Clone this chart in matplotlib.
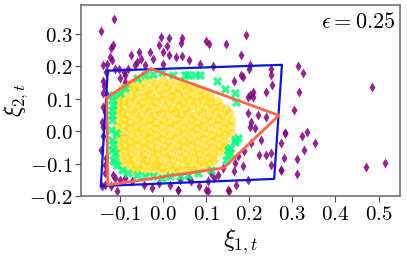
import matplotlib
matplotlib.use("Agg")
import matplotlib.pyplot as plt
from matplotlib.ticker import FuncFormatter

plt.rcParams["mathtext.fontset"] = "cm"

# outside points (purple diamonds)
purple_pts = [
    (-0.113, 0.347), (-0.144, 0.309), (-0.115, 0.265), (-0.120, 0.258), (-0.122, 0.229),
    (-0.138, 0.203), (-0.130, 0.209), (-0.132, 0.183), (-0.140, 0.156), (-0.136, 0.139),
    (-0.139, 0.117), (-0.119, 0.219), (-0.112, 0.193), (-0.102, 0.193), (-0.091, 0.183),
    (-0.088, 0.173), (-0.081, 0.193), (-0.074, 0.236), (-0.061, 0.214), (-0.055, 0.244),
    (-0.051, 0.224), (-0.065, 0.203), (-0.030, 0.244), (-0.024, 0.224), (-0.010, 0.265),
    (-0.005, 0.290), (0.013, 0.288), (0.009, 0.262), (0.001, 0.244), (0.014, 0.234),
    (0.001, 0.209), (0.030, 0.229), (0.044, 0.287), (0.042, 0.272), (0.045, 0.231),
    (-0.041, 0.203), (-0.088, 0.152), (-0.099, 0.163),
    (0.193, 0.298), (0.101, 0.278), (0.106, 0.268), (0.147, 0.270), (0.182, 0.236),
    (0.060, 0.219), (0.085, 0.209), (0.115, 0.200), (0.203, 0.206), (0.199, 0.193),
    (0.250, 0.193), (0.251, 0.173), (0.182, 0.173), (0.185, 0.168), (0.165, 0.156),
    (0.253, 0.144), (0.240, 0.122), (0.209, 0.122), (0.201, 0.111),
    (0.484, 0.136), (0.314, 0.200), (0.324, 0.180), (0.315, 0.122), (0.305, 0.065),
    (0.334, -0.003), (0.323, -0.014), (0.353, -0.035), (0.328, -0.057), (0.310, -0.085),
    (0.310, -0.131), (0.472, -0.111), (0.515, -0.099), (0.284, -0.004), (0.274, -0.118),
    (0.280, -0.081),
    (0.197, 0.106), (0.209, 0.106), (0.197, 0.055), (0.220, 0.050), (0.240, 0.045),
    (0.205, 0.030), (0.213, 0.009), (0.201, 0.012), (0.228, -0.027), (0.205, -0.037),
    (0.282, -0.006), (0.274, -0.035), (0.250, -0.067), (0.240, -0.073), (0.222, -0.073),
    (0.189, -0.062), (0.174, -0.076), (0.185, -0.106), (0.166, -0.098), (0.165, -0.124),
    (0.251, -0.103), (0.274, -0.121), (0.139, -0.113), (0.128, -0.134), (0.111, -0.129),
    (0.118, -0.144), (0.104, -0.154), (0.066, -0.154), (0.101, -0.180), (0.151, -0.180),
    (0.170, -0.165), (0.197, -0.151),
    (-0.130, 0.111), (-0.138, 0.076), (-0.135, 0.060), (-0.142, 0.030), (-0.138, 0.014),
    (-0.140, -0.016), (-0.144, -0.057), (-0.132, -0.083), (-0.134, -0.103), (-0.134, -0.129),
    (-0.135, -0.165), (-0.142, -0.170), (-0.115, -0.134), (-0.111, -0.144), (-0.099, -0.149),
    (-0.107, -0.185), (-0.120, -0.170), (-0.088, -0.144), (-0.072, -0.154), (-0.045, -0.165),
    (-0.026, -0.175), (-0.010, -0.160), (0.017, -0.165), (0.036, -0.180), (0.040, -0.151),
    (0.060, -0.144), (0.034, -0.181), (0.083, -0.169), (0.104, -0.184), (0.153, -0.184),
]

# boundary points (green crosses)
green_pts = [
    (-0.041, 0.173), (-0.022, 0.178), (-0.003, 0.183), (0.024, 0.175), (0.051, 0.173),
    (-0.061, 0.163), (-0.088, 0.132), (-0.099, 0.117), (-0.115, 0.111),
    (0.058, 0.173), (0.074, 0.173), (0.085, 0.173), (0.125, 0.156), (0.143, 0.129),
    (0.166, 0.117), (0.170, 0.091), (0.174, -0.021), (0.166, -0.032), (0.155, -0.052),
    (0.151, -0.073), (0.147, -0.088), (0.112, -0.119), (0.081, -0.129), (0.166, -0.027),
    (0.151, -0.057), (0.155, -0.067),
    (-0.119, 0.096), (-0.117, 0.065), (-0.119, 0.035), (-0.120, 0.004), (-0.119, -0.027),
    (-0.117, -0.057), (-0.115, -0.088), (-0.107, -0.103), (-0.095, -0.119), (-0.080, -0.129),
    (-0.061, -0.134), (-0.041, -0.137), (-0.022, -0.139), (-0.003, -0.144), (0.016, -0.139),
    (0.040, -0.137), (0.059, -0.134), (-0.109, -0.006), (-0.111, -0.067), (-0.116, 0.080),
    (-0.118, 0.050), (-0.116, -0.040), (-0.112, -0.095),
]

# inner points (yellow circles)
yellow_pts = [
    (-0.075, 0.150), (-0.060, 0.158), (-0.045, 0.152), (-0.030, 0.160), (-0.015, 0.150),
    (0.000, 0.157), (0.015, 0.148), (0.030, 0.155), (0.048, 0.146),
    (-0.095, 0.132), (-0.082, 0.138), (-0.068, 0.130), (-0.052, 0.136), (-0.038, 0.128),
    (-0.022, 0.138), (-0.008, 0.131), (0.008, 0.136), (0.022, 0.127), (0.038, 0.134),
    (0.055, 0.129), (0.070, 0.136), (0.085, 0.126),
    (-0.102, 0.112), (-0.090, 0.118), (-0.075, 0.110), (-0.060, 0.117), (-0.045, 0.109),
    (-0.030, 0.116), (-0.014, 0.108), (0.002, 0.115), (0.018, 0.110), (0.034, 0.118),
    (0.050, 0.108), (0.066, 0.114), (0.082, 0.109), (0.098, 0.115), (0.110, 0.106),
    (-0.105, 0.092), (-0.092, 0.098), (-0.078, 0.090), (-0.064, 0.097), (-0.048, 0.089),
    (-0.033, 0.096), (-0.018, 0.090), (-0.002, 0.098), (0.014, 0.091), (0.030, 0.097),
    (0.046, 0.089), (0.062, 0.095), (0.078, 0.090), (0.094, 0.097), (0.110, 0.089),
    (0.126, 0.094),
    (-0.104, 0.072), (-0.090, 0.078), (-0.074, 0.070), (-0.058, 0.077), (-0.043, 0.071),
    (-0.027, 0.079), (-0.012, 0.069), (0.004, 0.076), (0.020, 0.070), (0.036, 0.078),
    (0.052, 0.071), (0.068, 0.077), (0.084, 0.069), (0.100, 0.076), (0.116, 0.071),
    (0.132, 0.078), (0.146, 0.070),
    (-0.106, 0.052), (-0.094, 0.058), (-0.080, 0.050), (-0.065, 0.057), (-0.050, 0.051),
    (-0.035, 0.058), (-0.020, 0.049), (-0.005, 0.056), (0.011, 0.050), (0.027, 0.058),
    (0.043, 0.052), (0.059, 0.057), (0.075, 0.049), (0.091, 0.056), (0.107, 0.050),
    (0.122, 0.058), (0.138, 0.051), (0.153, 0.056),
    (-0.105, 0.032), (-0.091, 0.038), (-0.076, 0.030), (-0.061, 0.037), (-0.046, 0.031),
    (-0.031, 0.039), (-0.016, 0.029), (0.000, 0.036), (0.016, 0.030), (0.032, 0.038),
    (0.048, 0.031), (0.064, 0.037), (0.080, 0.029), (0.096, 0.036), (0.112, 0.031),
    (0.128, 0.038), (0.144, 0.030), (0.158, 0.036),
    (-0.106, 0.012), (-0.093, 0.018), (-0.078, 0.010), (-0.063, 0.017), (-0.048, 0.011),
    (-0.033, 0.018), (-0.018, 0.009), (-0.002, 0.016), (0.014, 0.010), (0.030, 0.018),
    (0.046, 0.011), (0.062, 0.017), (0.078, 0.009), (0.094, 0.016), (0.110, 0.010),
    (0.126, 0.018), (0.142, 0.011), (0.157, 0.016),
    (-0.105, -0.008), (-0.090, -0.002), (-0.075, -0.010), (-0.060, -0.003), (-0.045, -0.009),
    (-0.030, -0.001), (-0.015, -0.011), (0.001, -0.004), (0.017, -0.010), (0.033, -0.002),
    (0.049, -0.009), (0.065, -0.003), (0.081, -0.011), (0.097, -0.004), (0.113, -0.010),
    (0.129, -0.002), (0.145, -0.009), (0.157, -0.004),
    (-0.104, -0.028), (-0.091, -0.022), (-0.077, -0.030), (-0.062, -0.023), (-0.047, -0.029),
    (-0.032, -0.021), (-0.017, -0.031), (-0.001, -0.024), (0.015, -0.030), (0.031, -0.022),
    (0.047, -0.029), (0.063, -0.023), (0.079, -0.031), (0.095, -0.024), (0.111, -0.030),
    (0.127, -0.022), (0.143, -0.029),
    (-0.103, -0.048), (-0.089, -0.042), (-0.074, -0.050), (-0.059, -0.043), (-0.044, -0.049),
    (-0.029, -0.041), (-0.014, -0.051), (0.002, -0.044), (0.018, -0.050), (0.034, -0.042),
    (0.050, -0.049), (0.066, -0.043), (0.082, -0.051), (0.098, -0.044), (0.114, -0.050),
    (0.130, -0.042), (0.142, -0.049),
    (-0.102, -0.068), (-0.088, -0.062), (-0.073, -0.070), (-0.058, -0.063), (-0.043, -0.069),
    (-0.028, -0.061), (-0.013, -0.071), (0.003, -0.064), (0.019, -0.070), (0.035, -0.062),
    (0.051, -0.069), (0.067, -0.063), (0.083, -0.071), (0.099, -0.064), (0.115, -0.070),
    (0.130, -0.063),
    (-0.098, -0.088), (-0.084, -0.082), (-0.069, -0.090), (-0.054, -0.083), (-0.039, -0.089),
    (-0.024, -0.081), (-0.009, -0.091), (0.007, -0.084), (0.023, -0.090), (0.039, -0.082),
    (0.055, -0.089), (0.071, -0.083), (0.087, -0.091), (0.103, -0.084), (0.119, -0.089),
    (-0.090, -0.106), (-0.076, -0.101), (-0.061, -0.109), (-0.046, -0.102), (-0.031, -0.108),
    (-0.016, -0.100), (-0.001, -0.110), (0.015, -0.103), (0.031, -0.109), (0.047, -0.101),
    (0.063, -0.108), (0.079, -0.102), (0.095, -0.107), (0.108, -0.101),
    (-0.070, -0.121), (-0.052, -0.118), (-0.034, -0.123), (-0.016, -0.119), (0.002, -0.124),
    (0.020, -0.118), (0.038, -0.122), (0.056, -0.119), (0.074, -0.121),
]

# enclosing sets (closed polygons)
blue_x = [-0.128, 0.276, 0.258, -0.144, -0.128]
blue_y = [0.187, 0.205, -0.147, -0.169, 0.187]
red_x = [-0.130, -0.028, 0.269, 0.141, -0.128, -0.130]
red_y = [0.104, 0.193, 0.049, -0.113, -0.166, 0.104]

eps_label = r"$\epsilon = 0.25$"


def unzip(pts):
    return [p[0] for p in pts], [p[1] for p in pts]


fig = plt.figure(figsize=(4.07, 2.57), dpi=100)
ax = fig.add_axes([0.199, 0.237, 0.784, 0.744])

px, py = unzip(purple_pts)
ax.scatter(px, py, marker="d", s=26, color="purple", alpha=0.85, linewidths=0, zorder=2)
yx, yy = unzip(yellow_pts)
ax.scatter(yx, yy, marker="o", s=42, color="gold", alpha=0.6, linewidths=0, zorder=3)
gx, gy = unzip(green_pts)
ax.scatter(gx, gy, marker="X", s=45, color="springgreen", alpha=0.85, linewidths=0, zorder=4)

ax.plot(blue_x, blue_y, color="#0a14e6", lw=1.6, zorder=5)
ax.plot(red_x, red_y, color="tomato", lw=2.0, zorder=6)

ax.text(0.985, 0.965, eps_label, transform=ax.transAxes, ha="right", va="top", fontsize=16)

ax.set_xlim(-0.19, 0.55)
ax.set_ylim(-0.2, 0.39)
ax.set_xticks([-0.1, 0.0, 0.1, 0.2, 0.3, 0.4, 0.5])
ax.set_yticks([-0.2, -0.1, 0.0, 0.1, 0.2, 0.3])
fmt = FuncFormatter(lambda v, p: f"${v:.1f}$")
ax.xaxis.set_major_formatter(fmt)
ax.yaxis.set_major_formatter(fmt)
ax.tick_params(labelsize=15, length=4, color="0.3", pad=2)
ax.set_xlabel(r"$\xi_{1,t}$", fontsize=18, labelpad=1)
ax.set_ylabel(r"$\xi_{2,t}$", fontsize=17)
ax.yaxis.set_label_coords(-0.16, 0.5)
for s in ax.spines.values():
    s.set_color("0.45")
    s.set_linewidth(1.2)

fig.savefig("out.png", dpi=100)
